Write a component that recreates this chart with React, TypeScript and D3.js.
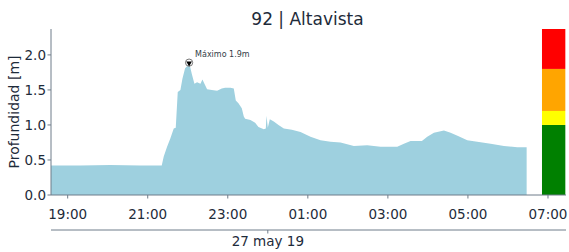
import React from "react";
import * as d3 from "d3";

const title = "92 | Altavista";
const yLabel = "Profundidad [m]";
const dateLabel = "27 may 19";
const maxLabel = "Máximo 1.9m";

const times = [
  "2019-05-26T18:35", "2019-05-26T19:19", "2019-05-26T20:04", "2019-05-26T20:49", "2019-05-26T21:21",
  "2019-05-26T21:24", "2019-05-26T21:29", "2019-05-26T21:34", "2019-05-26T21:39", "2019-05-26T21:42",
  "2019-05-26T21:45", "2019-05-26T21:49", "2019-05-26T21:52", "2019-05-26T21:56", "2019-05-26T22:00",
  "2019-05-26T22:02", "2019-05-26T22:06", "2019-05-26T22:10", "2019-05-26T22:14", "2019-05-26T22:19",
  "2019-05-26T22:22", "2019-05-26T22:25", "2019-05-26T22:29", "2019-05-26T22:36", "2019-05-26T22:44",
  "2019-05-26T22:51", "2019-05-26T22:56", "2019-05-26T23:04", "2019-05-26T23:09", "2019-05-26T23:12",
  "2019-05-26T23:16", "2019-05-26T23:21", "2019-05-26T23:24", "2019-05-26T23:26", "2019-05-26T23:34",
  "2019-05-26T23:41", "2019-05-26T23:46", "2019-05-26T23:54", "2019-05-26T23:57", "2019-05-26T23:58",
  "2019-05-27T00:00", "2019-05-27T00:03", "2019-05-27T00:09", "2019-05-27T00:16", "2019-05-27T00:24",
  "2019-05-27T00:36", "2019-05-27T00:49", "2019-05-27T01:04", "2019-05-27T01:19", "2019-05-27T01:34",
  "2019-05-27T01:49", "2019-05-27T02:09", "2019-05-27T02:29", "2019-05-27T02:49", "2019-05-27T03:14",
  "2019-05-27T03:24", "2019-05-27T03:34", "2019-05-27T03:51", "2019-05-27T03:59", "2019-05-27T04:09",
  "2019-05-27T04:24", "2019-05-27T04:34", "2019-05-27T04:46", "2019-05-27T04:59", "2019-05-27T05:14",
  "2019-05-27T05:34", "2019-05-27T05:54", "2019-05-27T06:14", "2019-05-27T06:28",
];
const depths = [
  0.42, 0.42, 0.43, 0.42, 0.42,
  0.55, 0.69, 0.81, 0.95, 0.96,
  1.47, 1.50, 1.66, 1.81, 1.85,
  1.89, 1.73, 1.59, 1.61, 1.59,
  1.65, 1.59, 1.51, 1.50, 1.49,
  1.52, 1.53, 1.53, 1.52, 1.35,
  1.31, 1.24, 1.12, 1.09, 1.07,
  1.03, 0.97, 0.94, 0.95, 1.13,
  0.96, 1.08, 1.05, 1.00, 0.95,
  0.93, 0.90, 0.83, 0.78, 0.76,
  0.75, 0.70, 0.71, 0.69, 0.69,
  0.73, 0.77, 0.77, 0.83, 0.89,
  0.92, 0.89, 0.84, 0.78, 0.76,
  0.73, 0.70, 0.68, 0.68,
];

const yTicks = [0, 0.5, 1.0, 1.5, 2.0];
const xTicks = ["2019-05-26T19:00", "2019-05-26T21:00", "2019-05-26T23:00", "2019-05-27T01:00", "2019-05-27T03:00", "2019-05-27T05:00", "2019-05-27T07:00"];
const xDomain = ["2019-05-26T18:35", "2019-05-27T07:27"];
const dateTick = "2019-05-27T00:00";

// alert level bands
const levelStarts = [0, 1.0, 1.2, 1.8];
const levelEnds = [1.0, 1.2, 1.8, 2.37];
const levelColors = ["#008000", "#ffff00", "#ffa500", "#ff0000"];
const levelBarTimes = ["2019-05-27T06:51", "2019-05-27T07:26"];

const W = 569, H = 252;
const M = { left: 51, right: 3, top: 29, bottom: 57 };

export default function App() {
  const parse = (s: string) => new Date(s);
  const x = d3.scaleTime().domain(xDomain.map(parse)).range([M.left, W - M.right]);
  const y = d3.scaleLinear().domain([0, 2.37]).range([H - M.bottom, M.top]);
  const data = times.map((t, i) => ({ t: parse(t), v: depths[i] }));
  const area = d3.area<{ t: Date; v: number }>().x(d => x(d.t)).y0(y(0)).y1(d => y(d.v));
  const fmt = d3.timeFormat("%H:%M");
  const maxIdx = d3.maxIndex(depths);
  const mx = x(data[maxIdx].t), my = y(depths[maxIdx]);
  const textColor = "#1e2b3a";
  const axisColor = "#6f7d8a";
  const font = "DejaVu Sans, sans-serif";
  const y0 = y(0);
  const secY = 230;

  return (
    <svg width={W} height={H} style={{ position: "absolute", left: 0, top: 0 }} fontFamily={font}>
      <text x={307.5} y={25} textAnchor="middle" fontSize={17} fill={textColor}>{title}</text>
      <path d={area(data) || ""} fill="#9ed0df" />
      {levelStarts.map((s, i) => (
        <rect key={i} x={x(parse(levelBarTimes[0]))} width={x(parse(levelBarTimes[1])) - x(parse(levelBarTimes[0]))}
          y={y(levelEnds[i])} height={y(s) - y(levelEnds[i])} fill={levelColors[i]} />
      ))}
      {/* peak marker */}
      <circle cx={mx} cy={my} r={3.6} fill="white" stroke="#777" strokeWidth={1} />
      <path d={d3.symbol().type(d3.symbolTriangle).size(14)() || ""} transform={`translate(${mx},${my + 0.6}) rotate(180)`} fill="#000" />
      <text x={mx + 6} y={my - 6} fontSize={8} fill="#333d47">{maxLabel}</text>
      {/* y axis */}
      <line x1={M.left} x2={M.left} y1={M.top} y2={y0} stroke={axisColor} strokeWidth={1} />
      {yTicks.map(t => (
        <g key={t}>
          <line x1={M.left - 3.5} x2={M.left} y1={y(t)} y2={y(t)} stroke={axisColor} />
          <text x={M.left - 5} y={y(t)} dy="0.35em" textAnchor="end" fontSize={13.5} fill={textColor}>{t.toFixed(1)}</text>
        </g>
      ))}
      <text transform={`translate(14.5,${(M.top + y0) / 2}) rotate(-90)`} textAnchor="middle" dy="0.35em" fontSize={14} fill={textColor}>{yLabel}</text>
      {/* x axis */}
      <line x1={M.left} x2={W - M.right} y1={y0} y2={y0} stroke={axisColor} strokeWidth={1} />
      {xTicks.map(t => (
        <g key={t}>
          <line x1={x(parse(t))} x2={x(parse(t))} y1={y0} y2={y0 + 3.5} stroke={axisColor} />
          <text x={x(parse(t))} y={y0 + 19} dy="0.35em" textAnchor="middle" fontSize={13.5} fill={textColor}>{fmt(parse(t))}</text>
        </g>
      ))}
      {/* secondary date axis */}
      <line x1={M.left} x2={W - M.right} y1={secY} y2={secY} stroke={axisColor} strokeWidth={1} />
      <line x1={x(parse(dateTick))} x2={x(parse(dateTick))} y1={secY} y2={secY + 3.5} stroke={axisColor} />
      <text x={x(parse(dateTick))} y={secY + 11} dy="0.35em" textAnchor="middle" fontSize={13.5} fill={textColor}>{dateLabel}</text>
    </svg>
  );
}
